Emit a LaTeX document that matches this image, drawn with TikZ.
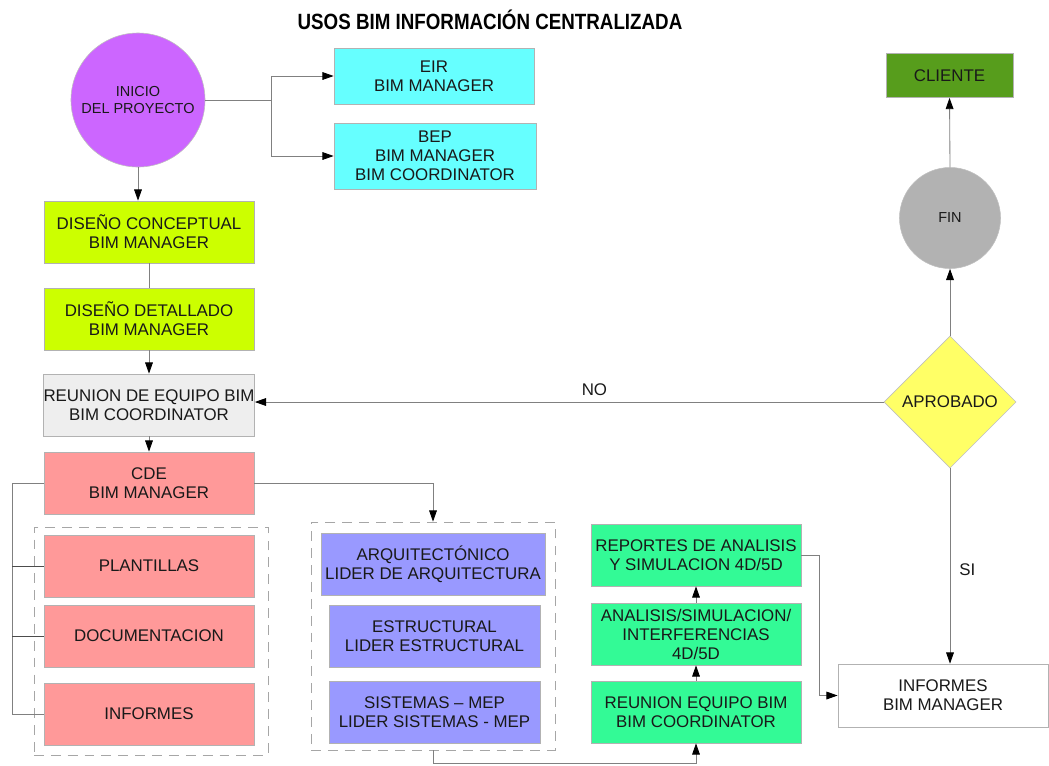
\documentclass[tikz,border=0pt]{standalone}
\usepackage{graphicx}
\usepackage{fontspec}
\setmainfont{Liberation Sans}
\usetikzlibrary{arrows.meta,shapes.geometric}

\definecolor{violeta}{RGB}{204,102,255}
\definecolor{celeste}{RGB}{102,255,255}
\definecolor{lima}{RGB}{204,255,0}
\definecolor{grisclaro}{RGB}{238,238,238}
\definecolor{salmon}{RGB}{255,153,153}
\definecolor{lila}{RGB}{153,153,255}
\definecolor{menta}{RGB}{51,250,150}
\definecolor{amarillo}{RGB}{255,255,102}
\definecolor{grisfin}{RGB}{178,178,178}
\definecolor{verde}{RGB}{87,157,28}

\tikzset{
	caja/.style={draw=black!30, line width=0.5pt, inner sep=0pt, align=center,
		minimum width=5.25cm, minimum height=1.55cm, text=black!90,
		font=\fontsize{12}{13.5}\selectfont},
	redondo/.style={circle, draw=black!25, line width=0.4pt, inner sep=0pt, align=center,
		text=black!90, font=\fontsize{10.3}{12.6}\selectfont},
	grupo/.style={draw=black!35, line width=0.5pt, dash pattern=on 7pt off 5pt,
		minimum width=5.85cm, minimum height=5.7cm},
	linea/.style={draw=black!50, line width=0.6pt},
	flecha/.style={linea, -{Triangle[length=8pt,width=5.5pt,color=black]}},
	etiqueta/.style={font=\fontsize{12}{13.5}\selectfont, text=black!90}
}

\begin{document}
\begin{tikzpicture}[x=0.025cm, y=-0.025cm]
	%%%%% START %%%%%
	\useasboundingbox (0,0) rectangle (1049,765);
	
	\node (titulo) at (490,20) {\scalebox{0.85}[1]{\fontsize{15.7}{18}\selectfont\bfseries USOS BIM INFORMACIÓN CENTRALIZADA}};
	
	% inicio y entregables
	\node[redondo, fill=violeta, minimum size=3.35cm] (inicio) at (138,100) {INICIO\\DEL PROYECTO};
	\node[caja, fill=celeste, minimum width=5cm, minimum height=1.4cm] (eir) at (434,76) {EIR\\BIM MANAGER};
	\node[caja, fill=celeste, minimum width=5.05cm, minimum height=1.65cm] (bep) at (435,156) {BEP\\BIM MANAGER\\BIM COORDINATOR};
	\coordinate (reparto) at (271,100);
	
	% columna izquierda
	\node[caja, fill=lima] (conceptual) at (149,232) {DISEÑO CONCEPTUAL\\BIM MANAGER};
	\node[caja, fill=lima] (detallado) at (149,319) {DISEÑO DETALLADO\\BIM MANAGER};
	\node[caja, fill=grisclaro] (reunion) at (149,405) {REUNION DE EQUIPO BIM\\BIM COORDINATOR};
	\node[caja, fill=salmon] (cde) at (149,483) {CDE\\BIM MANAGER};
	
	\node[grupo] (grupoa) at (151,641) {};
	\node[caja, fill=salmon] (plantillas) at (149,566) {PLANTILLAS};
	\node[caja, fill=salmon] (documentacion) at (149,636) {DOCUMENTACION};
	\node[caja, fill=salmon] (informes) at (149,714) {INFORMES};
	\coordinate (arbol) at (12,483);
	
	% disciplinas
	\node[grupo, minimum width=6.1cm] (grupob) at (433,636) {};
	\node[caja, fill=lila, minimum width=5.6cm] (arquitectura) at (433,564) {ARQUITECTÓNICO\\LIDER DE ARQUITECTURA};
	\node[caja, fill=lila, minimum width=5.275cm] (estructura) at (434.5,636) {ESTRUCTURAL\\LIDER ESTRUCTURAL};
	\node[caja, fill=lila, minimum width=5.275cm] (sistemas) at (434.5,712) {SISTEMAS – MEP\\LIDER SISTEMAS - MEP};
	
	% coordinacion
	\node[caja, fill=menta] (reunion2) at (696,712) {REUNION EQUIPO BIM\\BIM COORDINATOR};
	\node[caja, fill=menta] (analisis) at (696,634) {ANALISIS/SIMULACION/\\INTERFERENCIAS\\4D/5D};
	\node[caja, fill=menta] (reportes) at (696,555) {REPORTES DE ANALISIS\\ Y SIMULACION 4D/5D};
	\node[caja, fill=white, minimum height=1.575cm] (infbim) at (943,695.5) {INFORMES\\BIM MANAGER};
	
	% decision y cierre
	\node[diamond, draw=black!25, fill=amarillo, inner sep=0pt, minimum width=3.3cm, minimum height=3.3cm, etiqueta] (aprobado) at (950,402) {APROBADO};
	\node[redondo, fill=grisfin, minimum size=2.525cm] (fin) at (950,218) {FIN};
	\node[caja, fill=verde, minimum width=3.175cm, minimum height=1.1cm] (cliente) at (949.5,75.5) {CLIENTE};
	
	% conectores
	\draw[linea] (inicio) -- (reparto);
	\draw[flecha] (reparto) |- (eir);
	\draw[flecha] (reparto) |- (bep);
	\draw[flecha] (inicio.south) -- (inicio.south |- conceptual.north);
	\draw[linea] (conceptual) -- (detallado);
	\draw[flecha] (detallado) -- (reunion);
	\draw[flecha] (reunion) -- (cde);
	
	\draw[linea] (cde.west) -- (arbol) |- (informes.west);
	\draw[linea, draw=black!70] (arbol |- plantillas.west) -- (plantillas.west);
	\draw[linea, draw=black!70] (arbol |- documentacion.west) -- (documentacion.west);
	
	\draw[flecha] (cde.east) -| (grupob.north);
	\draw[flecha] (grupob.south) -- ++(0,13) -| (reunion2.south);
	\draw[flecha] (reunion2) -- (analisis);
	\draw[flecha] (analisis) -- (reportes);
	\draw[flecha] (reportes.east) -- ++(18,0) |- (infbim.west);
	
	\draw[flecha] (aprobado.south) -- node[etiqueta, pos=0.52, right=3pt] {SI} (aprobado.south |- infbim.north);
	\draw[flecha] (aprobado.west) -- node[etiqueta, pos=0.46, above=1pt] {NO} (aprobado.west -| reunion.east);
	\draw[flecha] (aprobado.north) -- (fin.south);
	\draw[flecha] (fin.north) -- (cliente.south);
	
	%%%%% END %%%%%
\end{tikzpicture}
\end{document}
